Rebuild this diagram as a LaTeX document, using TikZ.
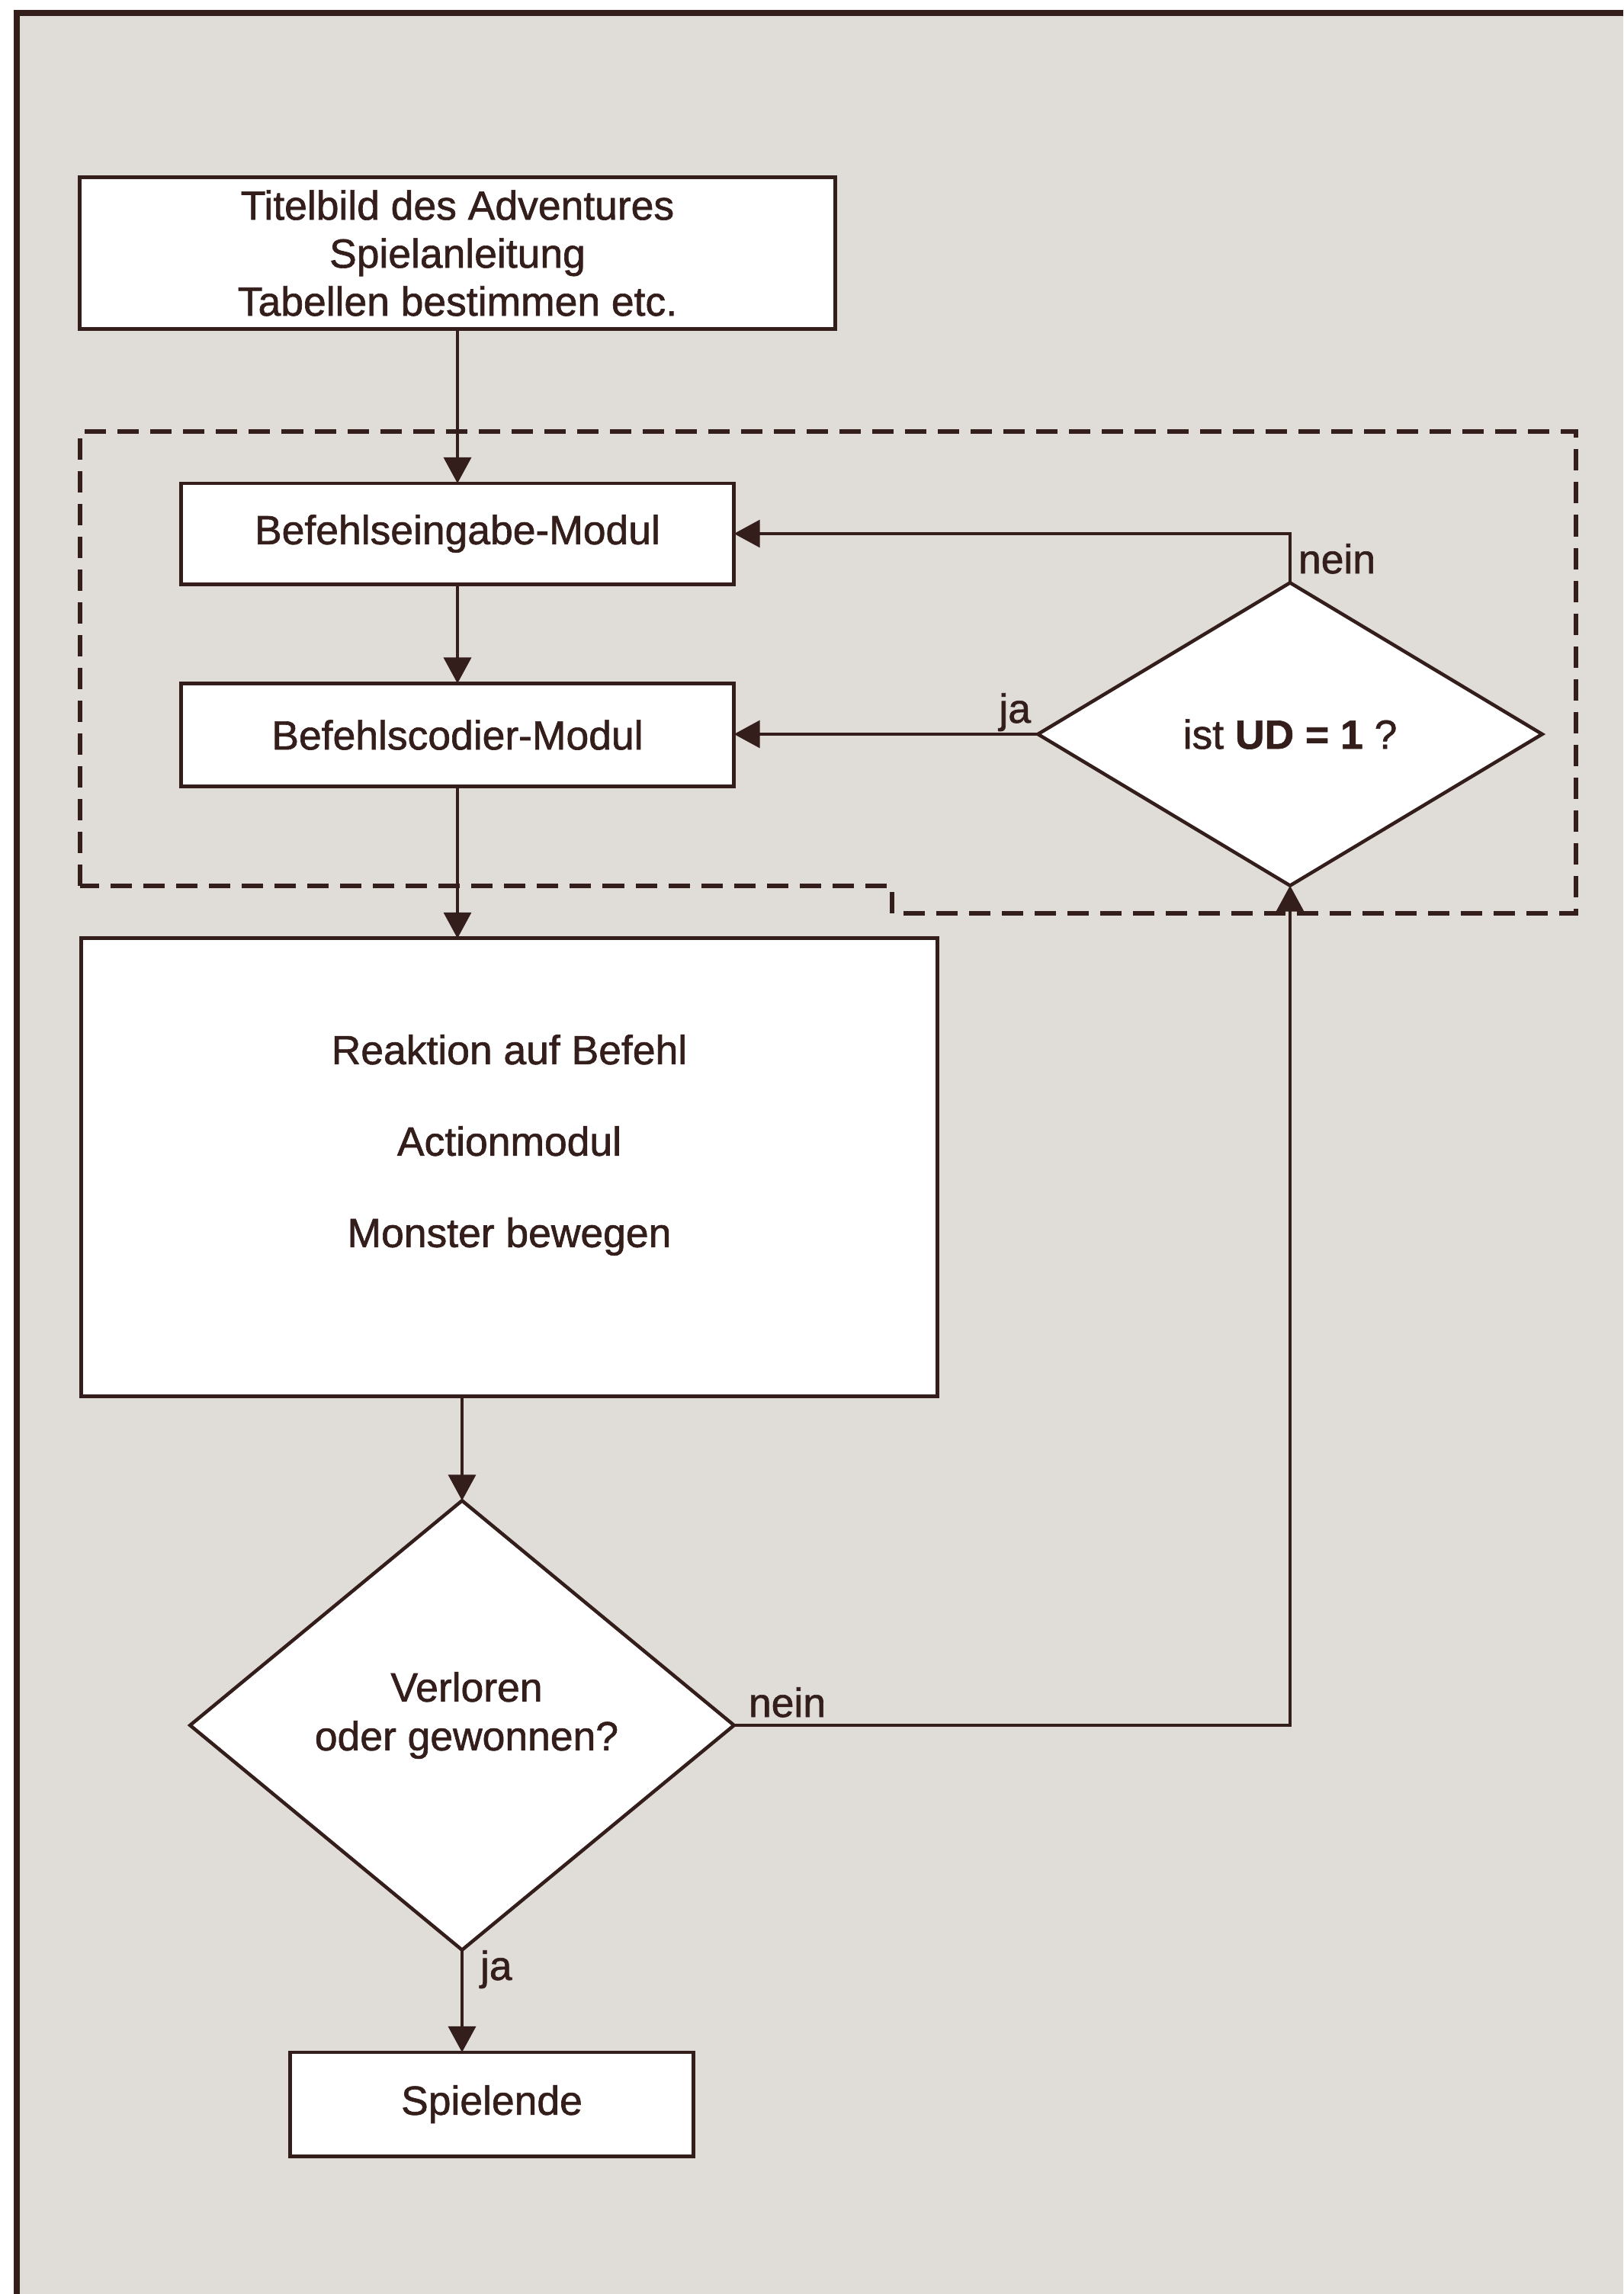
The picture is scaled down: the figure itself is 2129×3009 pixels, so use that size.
\documentclass[tikz,border=0pt]{standalone}
\usepackage{fontspec}
\setmainfont{Liberation Sans}[FakeBold=1.2]
\usetikzlibrary{shapes.geometric,arrows.meta}
\definecolor{ink}{RGB}{52,30,27}
\definecolor{paper}{RGB}{224,221,217}
\begin{document}
\begin{tikzpicture}[x=0.01cm,y=-0.01cm,
  every node/.style={font=\fontsize{15.2}{17.9}\selectfont, text=ink},
  proc/.style={draw=ink, line width=1.4pt, fill=white, rectangle, inner sep=0pt, outer sep=0pt, align=center},
  decide/.style={draw=ink, line width=1.3pt, fill=white, diamond, inner sep=0pt, outer sep=0pt, align=center},
  flow/.style={draw=ink, line width=1pt, -{Triangle[length=0.34cm,width=0.36cm]}},
  group/.style={draw=ink, line width=1.8pt, dash pattern=on 0.28cm off 0.15cm},
  lbl/.style={inner sep=0pt, outer sep=0pt}
]
\useasboundingbox (0,0) rectangle (2129,3009);
% paper and frame
\fill[white] (0,0) rectangle (2129,3009);
\fill[paper] (18,13) rectangle (2129,3009);
\draw[ink, line width=2.5pt] (22,3009) -- (22,17) -- (2129,17);

% dashed group around the command modules
\draw[group] (105,1162) -- (105,566) -- (2067,566) -- (2067,1198) -- (1170,1198) -- (1170,1162) -- cycle;

% process boxes and decisions
\node[proc, minimum width=9.91cm, minimum height=1.99cm] (title) at (600,332)
  {Titelbild des Adventures\\Spielanleitung\\Tabellen bestimmen etc.};
\node[proc, minimum width=7.25cm, minimum height=1.32cm] (input) at (600,700) {Befehlseingabe-Modul};
\node[proc, minimum width=7.25cm, minimum height=1.35cm] (decode) at (600,964) {Befehlscodier-Modul};
\node[decide, minimum width=6.61cm, minimum height=3.97cm] (ud) at (1692,963) {ist \textbf{UD = 1} ?};
\node[proc, minimum width=11.23cm, minimum height=6.0cm] (action) at (668,1531) {};
\node[align=center, font=\fontsize{15.2}{34.1}\selectfont] (actiontext) at (668,1502)
  {Reaktion auf Befehl\\Actionmodul\\Monster bewegen};
\node[decide, minimum width=7.13cm, minimum height=5.89cm] (over) at (606,2263) {};
\node[align=center, font=\fontsize{15.2}{18.2}\selectfont] (overtext) at (612,2250)
  {Verloren\\oder gewonnen?};
\node[proc, minimum width=5.29cm, minimum height=1.36cm] (end) at (645,2760) {Spielende};

% connectors
\draw[flow] (title.south) -- (input.north);
\draw[flow] (input.south) -- (decode.north);
\draw[flow] (decode.south) -- (decode.south |- action.north);
\draw[flow] (over.north |- action.south) -- (over.north);
\draw[flow] (over.south) -- (over.south |- end.north);
\draw[flow] (ud.north) |- (input.east);
\draw[flow] (ud.west) -- (ud.west -| decode.east);
\draw[flow] (over.east) -| (ud.south);

% branch labels
\node[lbl, anchor=base west] (udno) at (1703,752) {nein};
\node[lbl, anchor=base east] (udyes) at (1352,948) {ja};
\node[lbl, anchor=base west] (overno) at (982,2252) {nein};
\node[lbl, anchor=base west] (overyes) at (630,2597) {ja};
\end{tikzpicture}
\end{document}
